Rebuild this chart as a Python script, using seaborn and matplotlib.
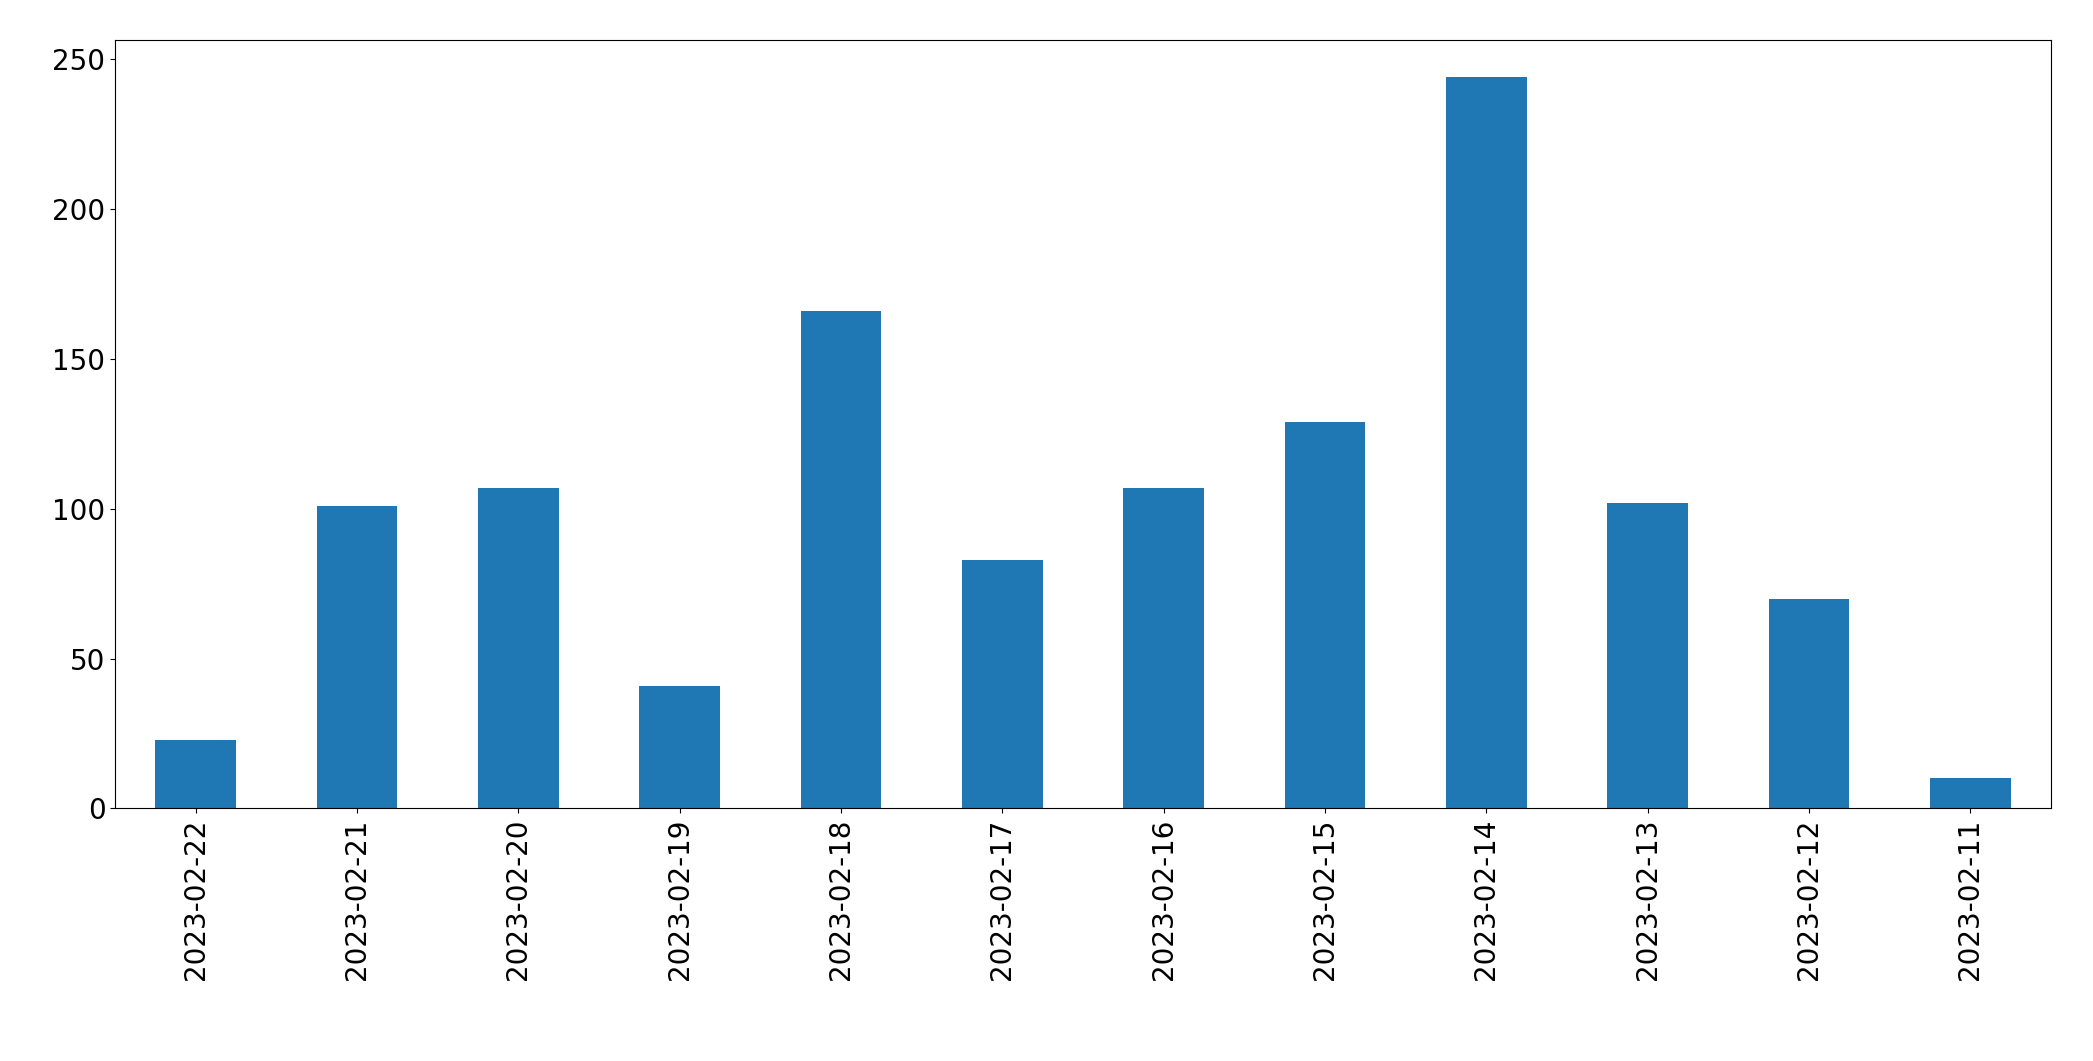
import pandas as pd
import seaborn as sns
import matplotlib
matplotlib.use('Agg')
import matplotlib.pyplot as plt

dates = ['2023-02-22', '2023-02-21', '2023-02-20', '2023-02-19', '2023-02-18', '2023-02-17',
         '2023-02-16', '2023-02-15', '2023-02-14', '2023-02-13', '2023-02-12', '2023-02-11']
counts = [23, 101, 107, 41, 166, 83, 107, 129, 244, 102, 70, 10]

df = pd.DataFrame({'date': dates, 'count': counts})

fig, ax = plt.subplots(figsize=(20.93, 10.61), dpi=100)
fig.subplots_adjust(left=0.055, right=0.98, top=0.962, bottom=0.238)

sns.barplot(data=df, x='date', y='count', order=dates, color='#1f77b4',
            saturation=1, width=0.5, ax=ax)
ax.set_xlim(-0.5, len(dates) - 0.5)
ax.set_ylim(0, max(counts) * 1.05)
ax.set_xlabel('')
ax.set_ylabel('')
ax.tick_params(axis='x', labelsize=20, rotation=90)
ax.tick_params(axis='y', labelsize=20)

plt.savefig('out.png', dpi=100)
